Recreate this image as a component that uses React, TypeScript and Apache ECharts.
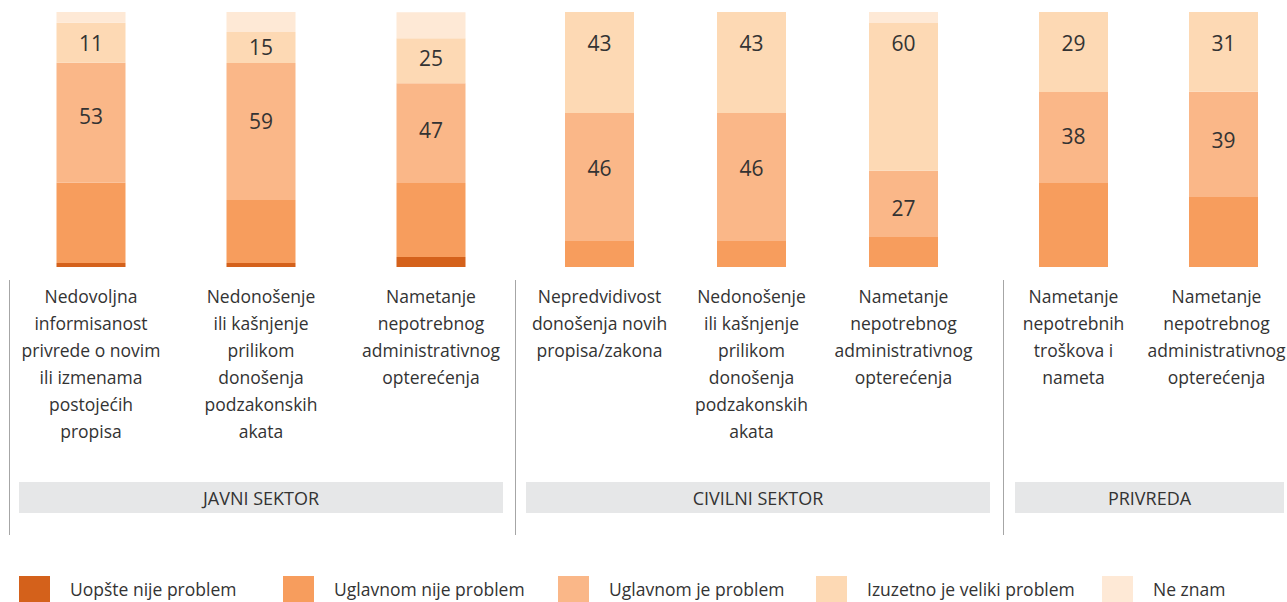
import React, { useEffect, useRef } from "react";
import * as echarts from "echarts";

// ---- Data ----
const categories = [
  "Nedovoljna\ninformisanost\nprivrede o novim\nili izmenama\npostojećih\npropisa",
  "Nedonošenje\nili kašnjenje\nprilikom\ndonošenja\npodzakonskih\nakata",
  "Nametanje\nnepotrebnog\nadministrativnog\nopterećenja",
  "Nepredvidivost\ndonošenja novih\npropisa/zakona",
  "Nedonošenje\nili kašnjenje\nprilikom\ndonošenja\npodzakonskih\nakata",
  "Nametanje\nnepotrebnog\nadministrativnog\nopterećenja",
  "Nametanje\nnepotrebnih\ntroškova i\nnameta",
  "Nametanje\nnepotrebnog\nadministrativnog\nopterećenja",
];

const groupTitles = ["JAVNI SEKTOR", "CIVILNI SEKTOR", "PRIVREDA"];
const groupStarts = [0, 3, 6];
const groupEnds = [3, 6, 8];

const seriesNames = [
  "Uopšte nije problem",
  "Uglavnom nije problem",
  "Uglavnom je problem",
  "Izuzetno je veliki problem",
  "Ne znam",
];

// segment shares (%) as drawn
const uopsteNije = [1.6, 1.6, 3.9, 0, 0, 0, 0, 0];
const uglavnomNije = [31.4, 24.7, 29.0, 10.2, 10.2, 11.8, 32.9, 27.5];
const uglavnomJe = [47.1, 53.7, 39.2, 50.2, 50.2, 25.9, 35.7, 41.2];
const izuzetno = [15.7, 12.2, 17.6, 39.6, 39.6, 58.0, 31.4, 31.4];
const neZnam = [4.3, 7.8, 10.2, 0, 0, 4.3, 0, 0];

// printed labels
const uglavnomJeLabels = [53, 59, 47, 46, 46, 27, 38, 39];
const izuzetnoLabels = [11, 15, 25, 43, 43, 60, 29, 31];

// ---- Styles / layout ----
const COLORS = ["#D4611B", "#F79D5D", "#FAB788", "#FDD9B4", "#FEE9D6"];
const FONT = "Open Sans";
const TEXT = "#333333";
const PLOT_TOP = 12;
const PLOT_H = 255;
const PX = PLOT_H / 100;

const gridBoxes = [
  { left: 6, width: 510 },
  { left: 523.5, width: 456 },
  { left: 998.5, width: 300 },
];
const headerBoxes = [
  { x: 19, w: 484 },
  { x: 526, w: 464 },
  { x: 1015, w: 269 },
];
const dividerX = [9.5, 515.5, 1003.5];
const legendLeft = [19, 283, 558, 816, 1102];

export default function App() {
  const ref = useRef<HTMLDivElement>(null);

  useEffect(() => {
    if (!ref.current) return;
    const chart = echarts.init(ref.current, null, { renderer: "svg" });

    const allValues = [uopsteNije, uglavnomNije, uglavnomJe, izuzetno, neZnam];

    const grids = gridBoxes.map((g) => ({
      left: g.left,
      width: g.width,
      top: PLOT_TOP,
      height: PLOT_H,
      containLabel: false,
      outerBoundsMode: "none",
    }));

    const xAxes = groupStarts.map((s, gi) => ({
      type: "category",
      gridIndex: gi,
      data: categories.slice(s, groupEnds[gi]).map((c, i) =>
        gi === 2 && i === 1
          ? { value: c, textStyle: { padding: [0, 14, 0, 0] } }
          : c
      ),
      axisLine: { show: false },
      axisTick: { show: false },
      axisLabel: {
        interval: 0,
        margin: 15,
        fontFamily: FONT,
        fontSize: 17.5,
        lineHeight: 27,
        color: TEXT,
        align: "center",
      },
    }));

    const yAxes = groupStarts.map((_, gi) => ({
      type: "value",
      gridIndex: gi,
      min: 0,
      max: 100,
      show: false,
    }));

    const labelBase = {
      show: true,
      fontFamily: FONT,
      fontSize: 21,
      lineHeight: 22,
      color: TEXT,
      align: "center",
      verticalAlign: "middle",
    };

    const series: any[] = [];
    groupStarts.forEach((s, gi) => {
      const e = groupEnds[gi];
      seriesNames.forEach((name, si) => {
        const vals = allValues[si].slice(s, e);
        const data = vals.map((v, k) => {
          const i = s + k;
          if (si === 2) {
            const h = uglavnomJe[i] * PX;
            return {
              value: v,
              label: {
                ...labelBase,
                position: ["50%", 0.3 * h + 17],
                formatter: String(uglavnomJeLabels[i]),
              },
            };
          }
          if (si === 3) {
            const topOff = neZnam[i] * PX;
            const h = izuzetno[i] * PX;
            const off = Math.min(h / 2, Math.max(31 - topOff, 20));
            return {
              value: v,
              label: {
                ...labelBase,
                position: ["50%", off],
                formatter: String(izuzetnoLabels[i]),
              },
            };
          }
          return v;
        });
        series.push({
          type: "bar",
          name,
          stack: "g" + gi,
          xAxisIndex: gi,
          yAxisIndex: gi,
          barWidth: 69,
          data,
          itemStyle: { color: COLORS[si] },
          label: { show: false },
          emphasis: { disabled: true },
        });
      });
    });

    const graphics: any[] = [];
    dividerX.forEach((x) => {
      graphics.push({
        type: "line",
        shape: { x1: x, y1: 280, x2: x, y2: 535 },
        style: { stroke: "#A6A6A6", lineWidth: 1 },
      });
    });
    headerBoxes.forEach((b, i) => {
      graphics.push({
        type: "rect",
        shape: { x: b.x, y: 482, width: b.w, height: 31 },
        style: { fill: "#E6E7E8" },
      });
      graphics.push({
        type: "text",
        x: b.x + b.w / 2,
        y: 497.5,
        style: {
          text: groupTitles[i],
          fill: TEXT,
          font: `18px "${FONT}"`,
          textAlign: "center",
          textVerticalAlign: "middle",
        },
      });
    });

    const legends = seriesNames.map((name, i) => ({
      data: [name],
      left: legendLeft[i],
      top: 576,
      padding: 0,
      icon: "rect",
      itemWidth: 31,
      itemHeight: 26,
      selectedMode: false,
      textStyle: {
        fontFamily: FONT,
        fontSize: 17.5,
        color: TEXT,
        padding: [0, 0, 2, 15],
      },
    }));

    chart.setOption({
      animation: false,
      backgroundColor: "#ffffff",
      grid: grids,
      xAxis: xAxes,
      yAxis: yAxes,
      series,
      legend: legends,
      graphic: graphics,
    });

    return () => chart.dispose();
  }, []);

  return (
    <div
      ref={ref}
      style={{ position: "fixed", left: 0, top: 0, width: 1287, height: 602 }}
    />
  );
}
